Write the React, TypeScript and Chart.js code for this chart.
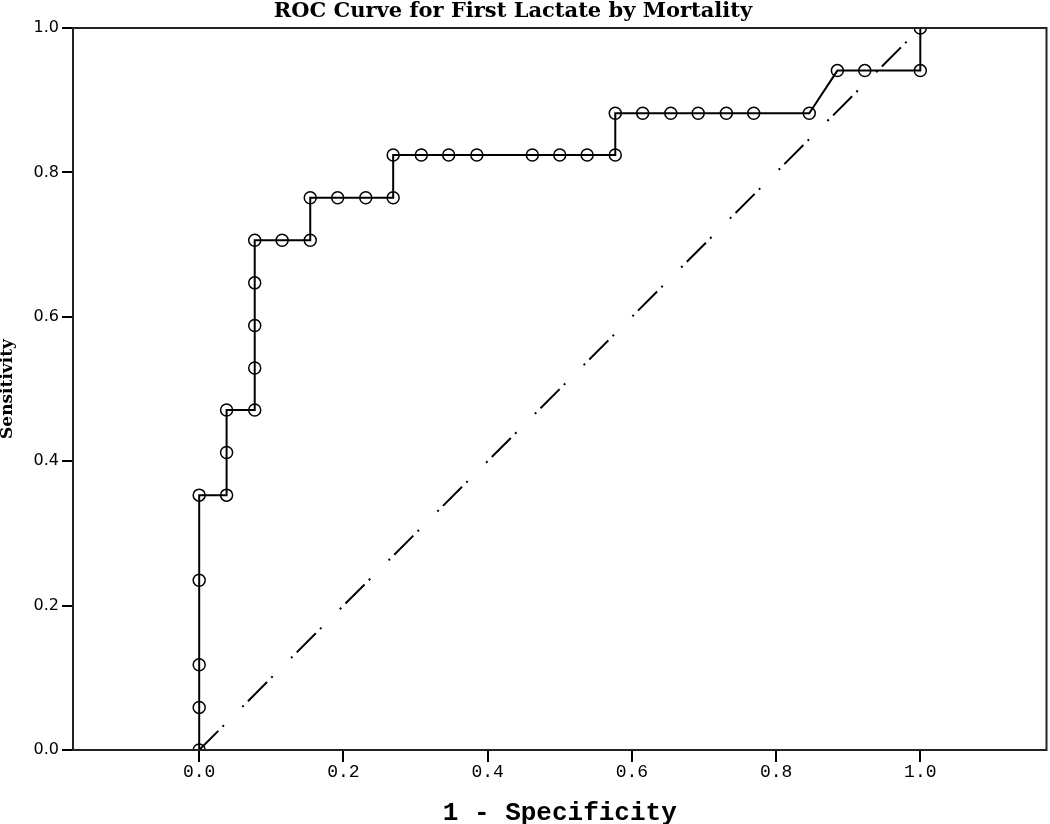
import React, { useEffect, useRef } from "react";
import { Chart, registerables } from "chart.js";

Chart.register(...registerables);

const TITLE = "ROC Curve for First Lactate by Mortality";
const X_LABEL = "1 - Specificity";
const Y_LABEL = "Sensitivity";

const X_TICKS = [0, 0.2, 0.4, 0.6, 0.8, 1.0];
const Y_TICKS = [0, 0.2, 0.4, 0.6, 0.8, 1.0];

// ROC curve points (1 - specificity, sensitivity)
const rocX = [
  0, 0, 0, 0, 0,
  0.038, 0.038, 0.038,
  0.077, 0.077, 0.077, 0.077, 0.077,
  0.115,
  0.154, 0.154,
  0.192,
  0.231,
  0.269, 0.269,
  0.308, 0.346, 0.385, 0.462, 0.5, 0.538,
  0.577, 0.577,
  0.615, 0.654, 0.692, 0.731, 0.769,
  0.846,
  0.885, 0.923,
  1, 1,
];
const rocY = [
  0, 0.059, 0.118, 0.235, 0.353,
  0.353, 0.412, 0.471,
  0.471, 0.529, 0.588, 0.647, 0.706,
  0.706,
  0.706, 0.765,
  0.765,
  0.765,
  0.765, 0.824,
  0.824, 0.824, 0.824, 0.824, 0.824, 0.824,
  0.824, 0.882,
  0.882, 0.882, 0.882, 0.882, 0.882,
  0.882,
  0.941, 0.941,
  0.941, 1,
];

// Reference (chance) diagonal
const refX = [0, 1];
const refY = [0, 1];

const framePlugin = {
  id: "frameAndTitle",
  afterDraw(chart: any) {
    const { ctx, chartArea } = chart;
    ctx.save();
    ctx.strokeStyle = "#222";
    ctx.lineWidth = 2;
    ctx.strokeRect(chartArea.left, chartArea.top, chartArea.right - chartArea.left, chartArea.bottom - chartArea.top);
    ctx.fillStyle = "#000";
    ctx.font = "bold 21px 'DejaVu Serif'";
    ctx.textAlign = "center";
    ctx.textBaseline = "alphabetic";
    ctx.fillText(TITLE, 513, 17);
    ctx.restore();
  },
};

export default function App() {
  const ref = useRef<HTMLCanvasElement | null>(null);

  useEffect(() => {
    if (!ref.current) return;
    const chart = new Chart(ref.current, {
      type: "scatter",
      data: {
        datasets: [
          {
            label: "ROC",
            data: rocX.map((x, i) => ({ x, y: rocY[i] })),
            showLine: true,
            borderColor: "#000",
            borderWidth: 2,
            pointRadius: 6,
            pointBorderWidth: 1.5,
            pointBorderColor: "#000",
            pointBackgroundColor: "rgba(0,0,0,0)",
            clip: 0,
          } as any,
          {
            label: "Reference",
            data: refX.map((x, i) => ({ x, y: refY[i] })),
            showLine: true,
            borderColor: "#000",
            borderWidth: 2,
            borderDash: [27, 6, 2, 26, 2, 6],
            pointRadius: 0,
            clip: 0,
          } as any,
        ],
      },
      options: {
        animation: false,
        responsive: false,
        devicePixelRatio: 1,
        layout: { padding: { top: 28, right: 0, bottom: 0, left: 0 } },
        plugins: {
          legend: { display: false },
          tooltip: { enabled: false },
        },
        scales: {
          x: {
            type: "linear",
            min: -0.175,
            max: 1.175,
            afterBuildTicks: (s: any) => {
              s.ticks = X_TICKS.map((v) => ({ value: v }));
            },
            afterFit: (s: any) => {
              s.height = 74;
            },
            border: { display: false },
            grid: {
              drawOnChartArea: false,
              drawTicks: true,
              tickLength: 12,
              color: "#000",
              lineWidth: 2,
            },
            ticks: {
              color: "#000",
              padding: 1,
              autoSkip: false,
              maxRotation: 0,
              font: { family: "'Liberation Mono'", size: 18, lineHeight: 1 },
              callback: (v: any) => Number(v).toFixed(1),
            },
            title: {
              display: true,
              text: X_LABEL,
              color: "#000",
              font: { family: "'Liberation Mono'", size: 26, weight: "bold", lineHeight: 1 },
              padding: { top: 0, bottom: -2 },
            },
          },
          y: {
            type: "linear",
            min: 0,
            max: 1,
            afterBuildTicks: (s: any) => {
              s.ticks = Y_TICKS.map((v) => ({ value: v }));
            },
            afterFit: (s: any) => {
              s.width = 73;
            },
            border: { display: false },
            grid: {
              drawOnChartArea: false,
              drawTicks: true,
              tickLength: 11,
              color: "#000",
              lineWidth: 2,
            },
            ticks: {
              color: "#000",
              padding: 3,
              font: { family: "'DejaVu Sans'", size: 16, lineHeight: 1 },
              callback: (v: any) => Number(v).toFixed(1),
            },
            title: {
              display: true,
              text: Y_LABEL,
              color: "#000",
              font: { family: "'DejaVu Serif'", size: 17, weight: "bold", lineHeight: 1 },
              padding: { top: -1, bottom: 0 },
            },
          },
        },
      },
      plugins: [framePlugin],
    });
    return () => chart.destroy();
  }, []);

  return (
    <div style={{ position: "absolute", left: 0, top: 0, width: 1050, height: 824, overflow: "hidden", background: "#fff" }}>
      <canvas ref={ref} width={1054} height={824} style={{ display: "block" }} />
    </div>
  );
}
